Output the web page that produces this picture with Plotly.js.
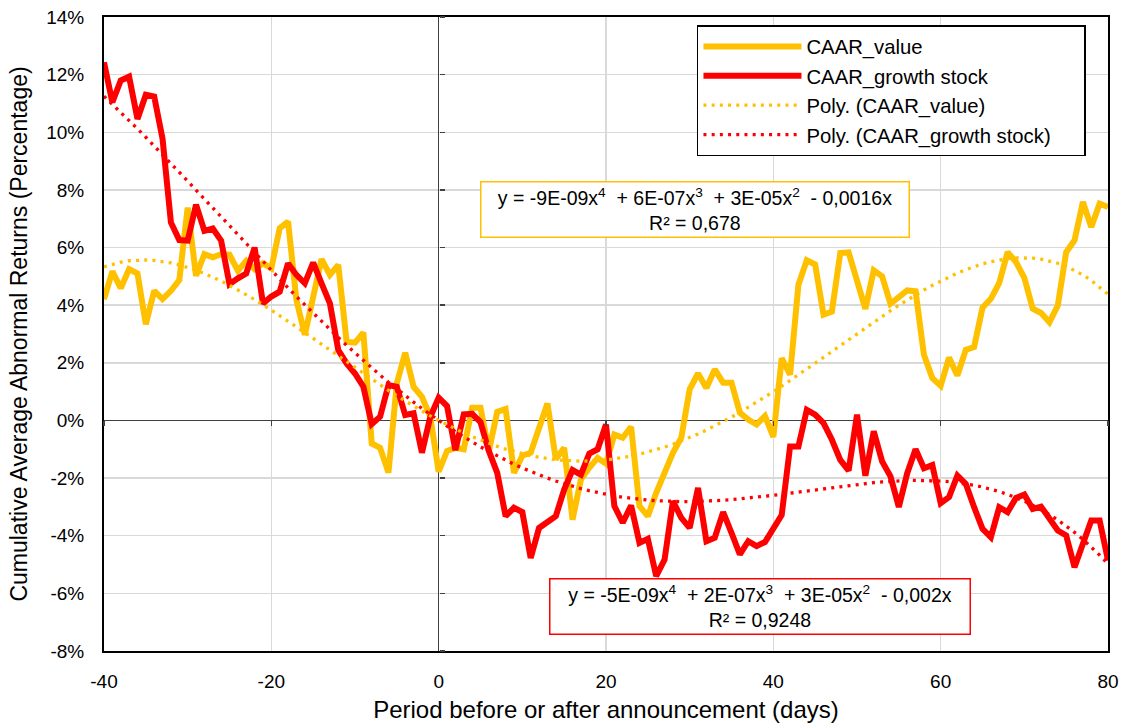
<!DOCTYPE html>
<html>
<head>
<meta charset="utf-8">
<script src="https://cdn.plot.ly/plotly-3.0.1.min.js"></script>
<style>
  html, body { margin: 0; padding: 0; background: #fff; }
  #chart { width: 1127px; height: 728px; }
</style>
</head>
<body>
<div id="chart"></div>
<script>
// Event window in days around the announcement
const days = [];
for (let d = -40; d <= 80; d++) days.push(d);

// Cumulative average abnormal returns, in percent, one value per day (-40 ... 80)
const caarValue = [
  4.21, 5.17, 4.59, 5.25, 5.10, 3.34, 4.50, 4.21, 4.50, 4.87,      // -40 .. -31
  7.39, 5.02, 5.77, 5.66, 5.77, 5.75, 5.20, 5.54, 5.25, 5.45,      // -30 .. -21
  5.28, 6.67, 6.90, 4.18, 2.97, 4.30, 5.60, 5.05, 5.40, 2.73,      // -20 .. -11
  2.70, 3.05, -0.80, -0.95, -1.81, 1.29, 2.35, 1.17, 0.82, 0.13,   // -10 .. -1
  -1.78, -1.06, -0.95, -1.00, 0.44, 0.44, -1.06, 0.30, 0.40, -1.82, // 0 .. 9
  -1.22, -1.12, -0.25, 0.59, -1.35, -0.95, -3.44, -2.05, -1.64, -1.30, // 10 .. 19
  -1.50, -0.49, -0.60, -0.22, -2.97, -3.32, -2.51, -1.76, -1.12, -0.60, // 20 .. 29
  1.08, 1.63, 1.13, 1.77, 1.31, 1.31, 0.27, 0.03, -0.14, 0.15,     // 30 .. 39
  -0.57, 2.16, 1.59, 4.71, 5.56, 5.41, 3.67, 3.78, 5.81, 5.83,     // 40 .. 49
  4.88, 3.87, 5.21, 5.00, 4.05, 4.25, 4.51, 4.48, 2.28, 1.47,      // 50 .. 59
  1.20, 2.18, 1.56, 2.45, 2.55, 3.91, 4.22, 4.77, 5.84, 5.50,      // 60 .. 69
  4.95, 3.88, 3.73, 3.41, 3.99, 5.84, 6.25, 7.58, 6.71, 7.52,      // 70 .. 79
  7.41                                                              // 80
];

const caarGrowth = [
  12.43, 11.04, 11.80, 11.93, 10.46, 11.30, 11.24, 9.77, 6.87, 6.26, // -40 .. -31
  6.24, 7.49, 6.58, 6.66, 6.24, 4.73, 4.93, 5.10, 6.00, 4.06,      // -30 .. -21
  4.30, 4.47, 5.45, 5.05, 4.76, 5.48, 4.76, 4.06, 2.44, 1.98,      // -20 .. -11
  1.63, 1.17, -0.13, 0.13, 1.23, 1.17, 0.19, 0.25, -1.12, 0.13,    // -10 .. -1
  0.79, 0.50, -1.03, 0.21, 0.23, -0.06, -1.06, -1.82, -3.32, -3.03, // 0 .. 9
  -3.18, -4.77, -3.73, -3.53, -3.32, -2.40, -1.72, -1.88, -1.15, -1.00, // 10 .. 19
  -0.14, -2.97, -3.55, -2.95, -4.25, -4.11, -5.40, -4.83, -2.80, -3.38, // 20 .. 29
  -3.73, -2.34, -4.19, -4.07, -3.18, -3.90, -4.65, -4.19, -4.36, -4.22, // 30 .. 39
  -3.78, -3.28, -0.90, -0.90, 0.37, 0.20, -0.09, -0.67, -1.37, -1.74, // 40 .. 49
  0.20, -1.92, -0.38, -1.42, -1.94, -3.00, -1.83, -1.00, -1.66, -1.55, // 50 .. 59
  -2.87, -2.66, -1.91, -2.20, -3.01, -3.76, -4.05, -3.01, -3.18, -2.69, // 60 .. 69
  -2.57, -3.07, -2.99, -3.41, -3.82, -3.99, -5.09, -4.28, -3.47, -3.47, // 70 .. 79
  -4.86                                                             // 80
];

const seriesNames = ['CAAR_value', 'CAAR_growth stock'];
const trendNames = ['Poly. (CAAR_value)', 'Poly. (CAAR_growth stock)'];

// Trendline labels (polynomial of order 4, intercept fixed at 0)
const valueEquation = 'y = -9E-09x<sup>4</sup>  + 6E-07x<sup>3</sup>  + 3E-05x<sup>2</sup>  - 0,0016x<br>R² = 0,678';
const growthEquation = 'y = -5E-09x<sup>4</sup>  + 2E-07x<sup>3</sup>  + 3E-05x<sup>2</sup>  - 0,002x<br>R² = 0,9248';

// Axis ticks
const xTickVals = [-40, -20, 0, 20, 40, 60, 80];
const xTickText = ['-40', '-20', '0', '20', '40', '60', '80'];
const yTickVals = [-8, -6, -4, -2, 0, 2, 4, 6, 8, 10, 12, 14];
const yTickText = ['-8%', '-6%', '-4%', '-2%', '0%', '2%', '4%', '6%', '8%', '10%', '12%', '14%'];

// Least-squares polynomial through the origin: y = c1*x + c2*x^2 + ... + cn*x^n
function fitThroughOrigin(xs, ys, order) {
  const scale = 40; // keep the normal equations well conditioned
  const A = Array.from({ length: order }, () => new Array(order).fill(0));
  const b = new Array(order).fill(0);
  for (let k = 0; k < xs.length; k++) {
    const t = xs[k] / scale;
    const pw = [];
    for (let i = 0; i < order; i++) pw.push(Math.pow(t, i + 1));
    for (let i = 0; i < order; i++) {
      b[i] += pw[i] * ys[k];
      for (let j = 0; j < order; j++) A[i][j] += pw[i] * pw[j];
    }
  }
  // Gaussian elimination with partial pivoting
  for (let c = 0; c < order; c++) {
    let p = c;
    for (let r = c + 1; r < order; r++) if (Math.abs(A[r][c]) > Math.abs(A[p][c])) p = r;
    [A[c], A[p]] = [A[p], A[c]];
    [b[c], b[p]] = [b[p], b[c]];
    for (let r = c + 1; r < order; r++) {
      const f = A[r][c] / A[c][c];
      for (let j = c; j < order; j++) A[r][j] -= f * A[c][j];
      b[r] -= f * b[c];
    }
  }
  const coef = new Array(order).fill(0);
  for (let r = order - 1; r >= 0; r--) {
    let s = b[r];
    for (let j = r + 1; j < order; j++) s -= A[r][j] * coef[j];
    coef[r] = s / A[r][r];
  }
  return x => {
    const t = x / scale;
    let y = 0;
    for (let i = 0; i < order; i++) y += coef[i] * Math.pow(t, i + 1);
    return y;
  };
}

const valueTrend = fitThroughOrigin(days, caarValue, 4);
const growthTrend = fitThroughOrigin(days, caarGrowth, 4);

const YELLOW = '#FFC000';
const RED = '#FF0000';
const FONT = 'Liberation Sans, Arial, sans-serif';
const PAD = '\u00A0\u00A0\u00A0\u00A0\u00A0'; // keeps some room at the right of the legend box

const traces = [
  { x: days, y: caarValue, name: seriesNames[0], type: 'scatter', mode: 'lines',
    line: { color: YELLOW, width: 6 } },
  { x: days, y: caarGrowth, name: seriesNames[1], type: 'scatter', mode: 'lines',
    line: { color: RED, width: 6 } },
  { x: days, y: days.map(valueTrend), name: trendNames[0], type: 'scatter', mode: 'lines',
    line: { color: YELLOW, width: 3.3, dash: '3px,5.2px' } },
  { x: days, y: days.map(growthTrend), name: trendNames[1] + PAD, type: 'scatter', mode: 'lines',
    line: { color: RED, width: 3.3, dash: '3px,5.2px' } },
  // empty carrier so the crossing-axis tick marks get their own subplot
  { x: [], y: [], xaxis: 'x2', yaxis: 'y2', type: 'scatter', mode: 'lines',
    showlegend: false, hoverinfo: 'skip' }
];

const xRange = [-40, 80];
const yRange = [-8, 14];

const layout = {
  width: 1127,
  height: 728,
  margin: { l: 104, r: 19, t: 17, b: 77 },
  paper_bgcolor: '#ffffff',
  plot_bgcolor: '#ffffff',
  font: { family: FONT, color: '#000000', size: 19 },
  showlegend: true,
  legend: {
    x: 0.5906, y: 0.987, xanchor: 'left', yanchor: 'top',
    bgcolor: '#ffffff', bordercolor: '#000000', borderwidth: 1.5,
    font: { family: FONT, size: 20.3, color: '#000000' },
    itemwidth: 98, tracegroupgap: 0
  },
  xaxis: {
    range: xRange, tickvals: xTickVals, ticktext: xTickText,
    showgrid: true, gridcolor: '#D9D9D9', gridwidth: 1.5,
    zeroline: true, zerolinecolor: '#404040', zerolinewidth: 1.5,
    showline: true, linecolor: '#000000', linewidth: 2, mirror: true,
    ticks: '', ticklabelstandoff: 12,
    tickfont: { family: FONT, size: 19, color: '#000000' },
    title: { text: 'Period before or after announcement (days)', font: { family: FONT, size: 24, color: '#000000' }, standoff: 10 },
    fixedrange: true
  },
  yaxis: {
    range: yRange, tickvals: yTickVals, ticktext: yTickText,
    showgrid: true, gridcolor: '#D9D9D9', gridwidth: 1.5,
    zeroline: true, zerolinecolor: '#404040', zerolinewidth: 1.5,
    showline: true, linecolor: '#000000', linewidth: 2, mirror: true,
    ticks: '', ticklabelstandoff: 14,
    tickfont: { family: FONT, size: 19, color: '#000000' },
    title: { text: 'Cumulative Average Abnormal Returns (Percentage)', font: { family: FONT, size: 23, color: '#000000' }, standoff: 12 },
    fixedrange: true
  },
  // tick marks on the axes crossing at day 0 and at 0 %
  xaxis2: {
    overlaying: 'x', anchor: 'free', position: (0 - yRange[0]) / (yRange[1] - yRange[0]),
    side: 'bottom', range: xRange, tickvals: xTickVals, ticks: 'outside', ticklen: 5,
    tickwidth: 1.5, tickcolor: '#404040', showticklabels: false, showgrid: false,
    zeroline: false, showline: false, fixedrange: true
  },
  yaxis2: {
    overlaying: 'y', anchor: 'free', position: (0 - xRange[0]) / (xRange[1] - xRange[0]),
    side: 'right', range: yRange, tickvals: yTickVals, ticks: 'outside', ticklen: 5,
    tickwidth: 1.5, tickcolor: '#404040', showticklabels: false, showgrid: false,
    zeroline: false, showline: false, fixedrange: true
  },
  annotations: [
    { xref: 'paper', yref: 'paper', x: 0.5887, y: 0.697, xanchor: 'center', yanchor: 'middle',
      text: valueEquation, showarrow: false, align: 'center',
      font: { family: FONT, size: 19.5, color: '#000000' },
      bgcolor: '#ffffff', bordercolor: YELLOW, borderwidth: 1.5, borderpad: 3, width: 421, height: 48 },
    { xref: 'paper', yref: 'paper', x: 0.6529, y: 0.0702, xanchor: 'center', yanchor: 'middle',
      text: growthEquation, showarrow: false, align: 'center',
      font: { family: FONT, size: 19.5, color: '#000000' },
      bgcolor: '#ffffff', bordercolor: RED, borderwidth: 1.5, borderpad: 3, width: 413, height: 48 }
  ]
};

Plotly.newPlot('chart', traces, layout, { staticPlot: true, displayModeBar: false });
</script>
</body>
</html>
